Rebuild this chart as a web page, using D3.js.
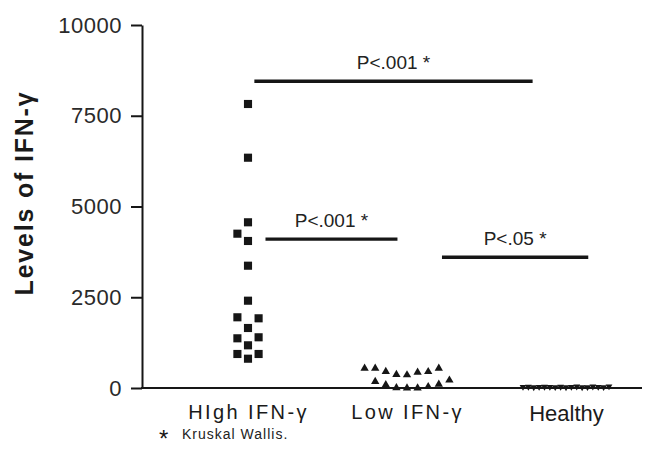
<!DOCTYPE html>
<html>
<head>
<meta charset="utf-8">
<script src="https://cdn.jsdelivr.net/npm/d3@7"></script>
<style>
  body { margin: 0; background: #fff; }
  svg { display: block; }
</style>
</head>
<body>
<div id="chart"></div>
<script>
// values
const categories = ["HIgh IFN-γ", "Low IFN-γ", "Healthy"];
const highValues = [807, 937, 937, 1176, 1369, 1397, 1653, 1948, 1920, 2405, 3369, 4050, 4251, 4565, 6344, 7824];
const lowValues = [360, 370, 432, 450, 449, 543, 543, 543, 0, 5, 0, 85, 36, 175, 102, 215];
const healthyValues = [20, 35, 30, 25, 40, 30, 20, 35, 25, 30, 40, 20, 30, 35, 25, 30, 45];
const yTicks = [0, 2500, 5000, 7500, 10000];

// significance bars (x in group index units, level in IFN units)
const sigFrom = [0.04, 0.11, 1.22];
const sigTo = [1.79, 0.94, 2.14];
const sigLevel = [8450, 4100, 3600];
const sigLabel = ["P<.001 *", "P<.001 *", "P<.05 *"];

const width = 648, height = 466;
const ink = "#161616";

const svg = d3.select("#chart")
  .append("svg")
  .attr("width", width)
  .attr("height", height)
  .style("font-family", "'Liberation Sans', Arial, sans-serif");

const x = d3.scaleLinear().domain([0, 2]).range([248, 566]);
const y = d3.scaleLinear().domain([0, 10000]).range([388, 25]);

// y axis
const yAxis = svg.append("g")
  .attr("transform", "translate(142,0)")
  .call(d3.axisLeft(y).tickValues(yTicks).tickSize(11).tickSizeOuter(0).tickPadding(9).tickFormat(d3.format("d")));
yAxis.selectAll("line, path").attr("stroke", ink).attr("stroke-width", 2);
yAxis.selectAll("text")
  .attr("fill", "#2a2a2a")
  .style("font-size", "22px")
  .style("letter-spacing", "0.5px");

// x axis
const xAxis = svg.append("g")
  .attr("transform", `translate(0,${y(0)})`)
  .call(d3.axisBottom(x).tickValues([0, 1, 2]).tickSize(0).tickPadding(17).tickFormat(i => categories[i]));
xAxis.select(".domain").remove();
xAxis.append("line")
  .attr("x1", 141).attr("x2", 642)
  .attr("stroke", ink).attr("stroke-width", 2.2);
xAxis.selectAll(".tick text")
  .attr("fill", "#1a1a1a")
  .attr("dy", "0.71em")
  .style("font-size", (d, i) => i === 2 ? "22px" : "20px")
  .style("letter-spacing", (d, i) => i === 2 ? "0px" : "2.4px");

// axis title
svg.append("text")
  .attr("transform", "translate(33,193) rotate(-90)")
  .attr("text-anchor", "middle")
  .attr("fill", "#1a1a1a")
  .style("font-size", "25px")
  .style("font-weight", "bold")
  .style("letter-spacing", "1.8px")
  .text("Levels of IFN-γ");

// spread points sideways like a column scatter: same slot may not hold two close points
function dodge(values, thr, maxStep, halfWidth) {
  const placed = [];
  const out = values.map(v => {
    const py = y(v);
    for (let k = 0; ; k++) {
      const s = k === 0 ? 0 : (k % 2 ? -(k + 1) / 2 : k / 2);
      if (!placed.some(p => p.slot === s && Math.abs(p.py - py) < thr)) {
        placed.push({slot: s, py: py});
        return {v: v, slot: s};
      }
    }
  });
  const maxAbs = d3.max(out, d => Math.abs(d.slot)) || 1;
  const step = Math.min(maxStep, halfWidth / maxAbs);
  out.forEach(d => d.dx = d.slot * step);
  return out;
}

const groups = [
  {values: highValues, symbol: d3.symbolSquare, size: 66, rotate: 0},
  {values: lowValues, symbol: d3.symbolTriangle, size: 30, rotate: 0},
  {values: healthyValues, symbol: d3.symbolTriangle, size: 20, rotate: 180}
];

groups.forEach((g, gi) => {
  const pts = dodge(g.values, 12.5, 10.6, 43);
  svg.append("g")
    .selectAll("path")
    .data(pts)
    .join("path")
    .attr("d", d3.symbol().type(g.symbol).size(g.size))
    .attr("transform", d => `translate(${x(gi) + d.dx},${y(d.v)}) rotate(${g.rotate})`)
    .attr("fill", ink);
});

// significance bars
const sig = svg.append("g");
sigLevel.forEach((lv, i) => {
  sig.append("line")
    .attr("x1", x(sigFrom[i])).attr("x2", x(sigTo[i]))
    .attr("y1", y(lv)).attr("y2", y(lv))
    .attr("stroke", ink).attr("stroke-width", 3.4);
  sig.append("text")
    .attr("x", (x(sigFrom[i]) + x(sigTo[i])) / 2)
    .attr("y", y(lv) - 12)
    .attr("text-anchor", "middle")
    .attr("fill", "#222")
    .style("font-size", "19px")
    .text(sigLabel[i]);
});

// footnote
svg.append("text")
  .attr("x", 159).attr("y", 447)
  .attr("fill", ink)
  .style("font-size", "24px")
  .text("*");
svg.append("text")
  .attr("x", 182).attr("y", 439)
  .attr("fill", "#222")
  .style("font-size", "14px")
  .style("letter-spacing", "1px")
  .text("Kruskal Wallis.");
</script>
</body>
</html>
